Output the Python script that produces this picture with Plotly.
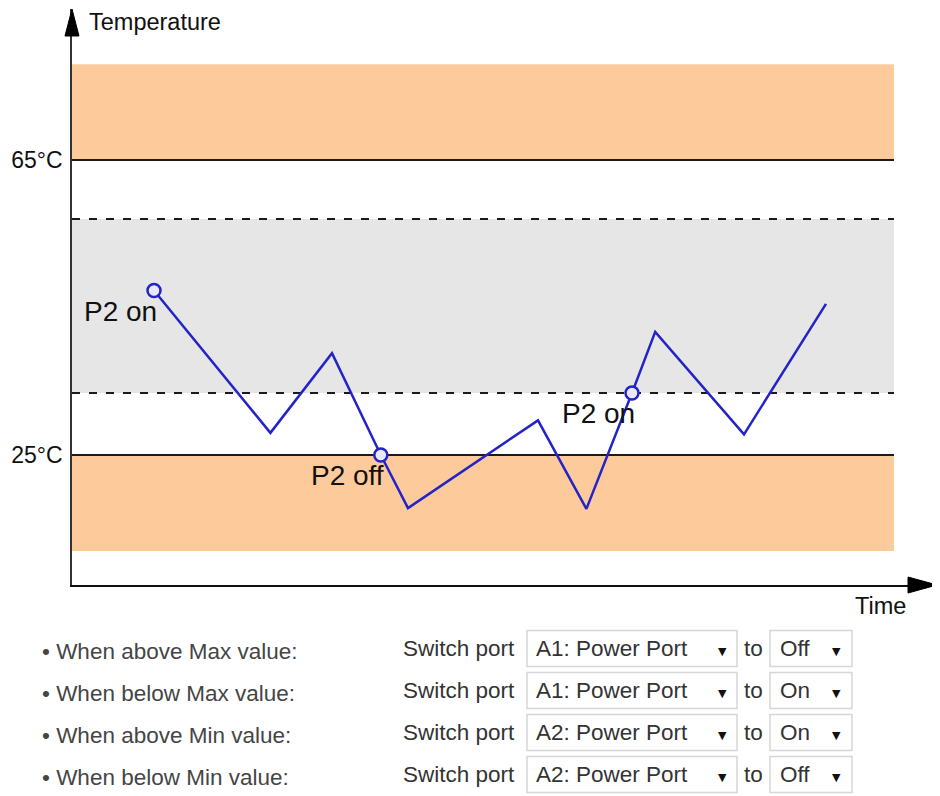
import plotly.graph_objects as go

# ---------------- data ----------------
time_pts = [10.25, 24.8, 32.5, 38.6, 42.0, 58.25, 64.3, 70.0, 72.9, 84.0, 94.25]
temp_pts = [47.3, 28.0, 38.8, 25.0, 17.8, 29.7, 17.7, 33.4, 41.7, 27.8, 45.5]
event_idx = [0, 3, 7]
event_labels = ["P2 on", "P2 off", "P2 on"]

max_value = 65
min_value = 25
upper_hyst = 57
lower_hyst = 33.4
band_top = 78
band_bottom = 12
band_end = 102.75
y_ticks = [25, 65]
y_ticktext = ["25°C", "65°C"]

conditions = ["When above Max value:", "When below Max value:",
              "When above Min value:", "When below Min value:"]
ports = ["A1: Power Port", "A1: Power Port", "A2: Power Port", "A2: Power Port"]
states = ["Off", "On", "On", "Off"]

# ---------------- layout geometry ----------------
# page body has an 8px margin, so the figure is 8px smaller and offset
OFF = 8
W, H = 940 - OFF, 796 - OFF
ML, MR, MT, MB = 72 - OFF, 3, 9 - OFF, 211
PW, PH = W - ML - MR, H - MT - MB
X_MAX = PW / 8.0
Y_MIN, Y_MAX = 7.373, 85.475


def pxx(p):
    return (p - 72) / PW


def pxy(p):
    return (585 - p) / PH


FONT = "Liberation Sans, Arial, sans-serif"
ORANGE = "#FDCB9B"
GRAY = "#E6E6E6"
BLUE = "#2323C8"

fig = go.Figure()

shapes = []
# orange bands
shapes.append(dict(type="rect", xref="x", yref="y", x0=0, x1=band_end,
                   y0=max_value, y1=band_top, fillcolor=ORANGE, line_width=0, layer="below"))
shapes.append(dict(type="rect", xref="x", yref="y", x0=0, x1=band_end,
                   y0=band_bottom, y1=min_value, fillcolor=ORANGE, line_width=0, layer="below"))
# grey hysteresis band
shapes.append(dict(type="rect", xref="x", yref="y", x0=0, x1=band_end,
                   y0=lower_hyst, y1=upper_hyst, fillcolor=GRAY, line_width=0, layer="below"))
# solid thresholds
for v in (max_value, min_value):
    shapes.append(dict(type="line", xref="x", yref="y", x0=0, x1=band_end, y0=v, y1=v,
                       line=dict(color="#1a1a1a", width=2), layer="below"))
# dashed thresholds
for v in (upper_hyst, lower_hyst):
    shapes.append(dict(type="line", xref="x", yref="y", x0=0, x1=band_end, y0=v, y1=v,
                       line=dict(color="#1a1a1a", width=2, dash="8px,9px"), layer="below"))
# axis arrowheads (paper-referenced so they are not clipped)
shapes.append(dict(type="path", xref="paper", yref="paper", xsizemode="pixel", ysizemode="pixel",
                   xanchor=0, yanchor=1, path="M -7,-27 L 7,-27 L 0,0 Z",
                   fillcolor="#000", line=dict(color="#000", width=1)))
shapes.append(dict(type="path", xref="paper", yref="paper", xsizemode="pixel", ysizemode="pixel",
                   xanchor=1, yanchor=0, path="M 0,0 L -29,8 L -29,-8 Z",
                   fillcolor="#000", line=dict(color="#000", width=1)))

# temperature line
fig.add_trace(go.Scatter(x=time_pts, y=temp_pts, mode="lines",
                         line=dict(color=BLUE, width=2.5), hoverinfo="skip"))
fig.add_trace(go.Scatter(x=[time_pts[i] for i in event_idx], y=[temp_pts[i] for i in event_idx],
                         mode="markers",
                         marker=dict(symbol="circle", size=13, color="#E8E8FF",
                                     line=dict(color=BLUE, width=2.5)),
                         hoverinfo="skip"))

annotations = []
for i, lab in zip(event_idx, event_labels):
    annotations.append(dict(x=time_pts[i], y=temp_pts[i], xref="x", yref="y", text=lab,
                            showarrow=False, xanchor="right", yanchor="top",
                            xshift=5, yshift=-3,
                            font=dict(family=FONT, size=28, color="#111")))

annotations.append(dict(x=pxx(87), y=pxy(22), xref="paper", yref="paper", text="Temperature",
                        showarrow=False, xanchor="left", yanchor="middle",
                        font=dict(family=FONT, size=23.5, color="#111")))
annotations.append(dict(x=pxx(853), y=pxy(606), xref="paper", yref="paper", text="Time",
                        showarrow=False, xanchor="left", yanchor="middle",
                        font=dict(family=FONT, size=23.5, color="#111")))

# settings form below the chart
ROW0, ROWSTEP, BOXH = 648.5, 42, 36
for r, (cond, port, state) in enumerate(zip(conditions, ports, states)):
    cy = ROW0 + r * ROWSTEP
    annotations.append(dict(x=pxx(40), y=pxy(cy + 3), xref="paper", yref="paper",
                            text="• " + cond, showarrow=False, xanchor="left", yanchor="middle",
                            font=dict(family=FONT, size=22.5, color="#454545")))
    annotations.append(dict(x=pxx(401), y=pxy(cy), xref="paper", yref="paper",
                            text="Switch port", showarrow=False, xanchor="left", yanchor="middle",
                            font=dict(family=FONT, size=22.5, color="#333")))
    shapes.append(dict(type="rect", xref="paper", yref="paper",
                       x0=pxx(527), x1=pxx(737), y0=pxy(cy + BOXH / 2), y1=pxy(cy - BOXH / 2),
                       fillcolor="white", line=dict(color="#D6D6D6", width=1.5)))
    annotations.append(dict(x=pxx(534), y=pxy(cy), xref="paper", yref="paper",
                            text=port, showarrow=False, xanchor="left", yanchor="middle",
                            font=dict(family=FONT, size=22.5, color="#333")))
    annotations.append(dict(x=pxx(722), y=pxy(cy + 3), xref="paper", yref="paper",
                            text="▼", showarrow=False, xanchor="center", yanchor="middle",
                            font=dict(family="DejaVu Sans", size=11, color="#111")))
    annotations.append(dict(x=pxx(742), y=pxy(cy), xref="paper", yref="paper",
                            text="to", showarrow=False, xanchor="left", yanchor="middle",
                            font=dict(family=FONT, size=22.5, color="#333")))
    shapes.append(dict(type="rect", xref="paper", yref="paper",
                       x0=pxx(770), x1=pxx(852), y0=pxy(cy + BOXH / 2), y1=pxy(cy - BOXH / 2),
                       fillcolor="white", line=dict(color="#D6D6D6", width=1.5)))
    annotations.append(dict(x=pxx(778), y=pxy(cy), xref="paper", yref="paper",
                            text=state, showarrow=False, xanchor="left", yanchor="middle",
                            font=dict(family=FONT, size=22.5, color="#333")))
    annotations.append(dict(x=pxx(836), y=pxy(cy + 3), xref="paper", yref="paper",
                            text="▼", showarrow=False, xanchor="center", yanchor="middle",
                            font=dict(family="DejaVu Sans", size=11, color="#111")))

fig.update_layout(
    width=W, height=H,
    margin=dict(l=ML, r=MR, t=MT, b=MB),
    paper_bgcolor="white", plot_bgcolor="white",
    showlegend=False,
    shapes=shapes,
    annotations=annotations,
    xaxis=dict(range=[0, X_MAX], showgrid=False, zeroline=False, showticklabels=False,
               ticks="", showline=True, linecolor="#111", linewidth=2, fixedrange=True),
    yaxis=dict(range=[Y_MIN, Y_MAX], showgrid=False, zeroline=False,
               tickvals=y_ticks, ticktext=y_ticktext, ticks="",
               tickfont=dict(family=FONT, size=23, color="#111"),
               ticklabelstandoff=3,
               showline=True, linecolor="#333", linewidth=1.5, fixedrange=True),
)

fig.write_html("out.html")
